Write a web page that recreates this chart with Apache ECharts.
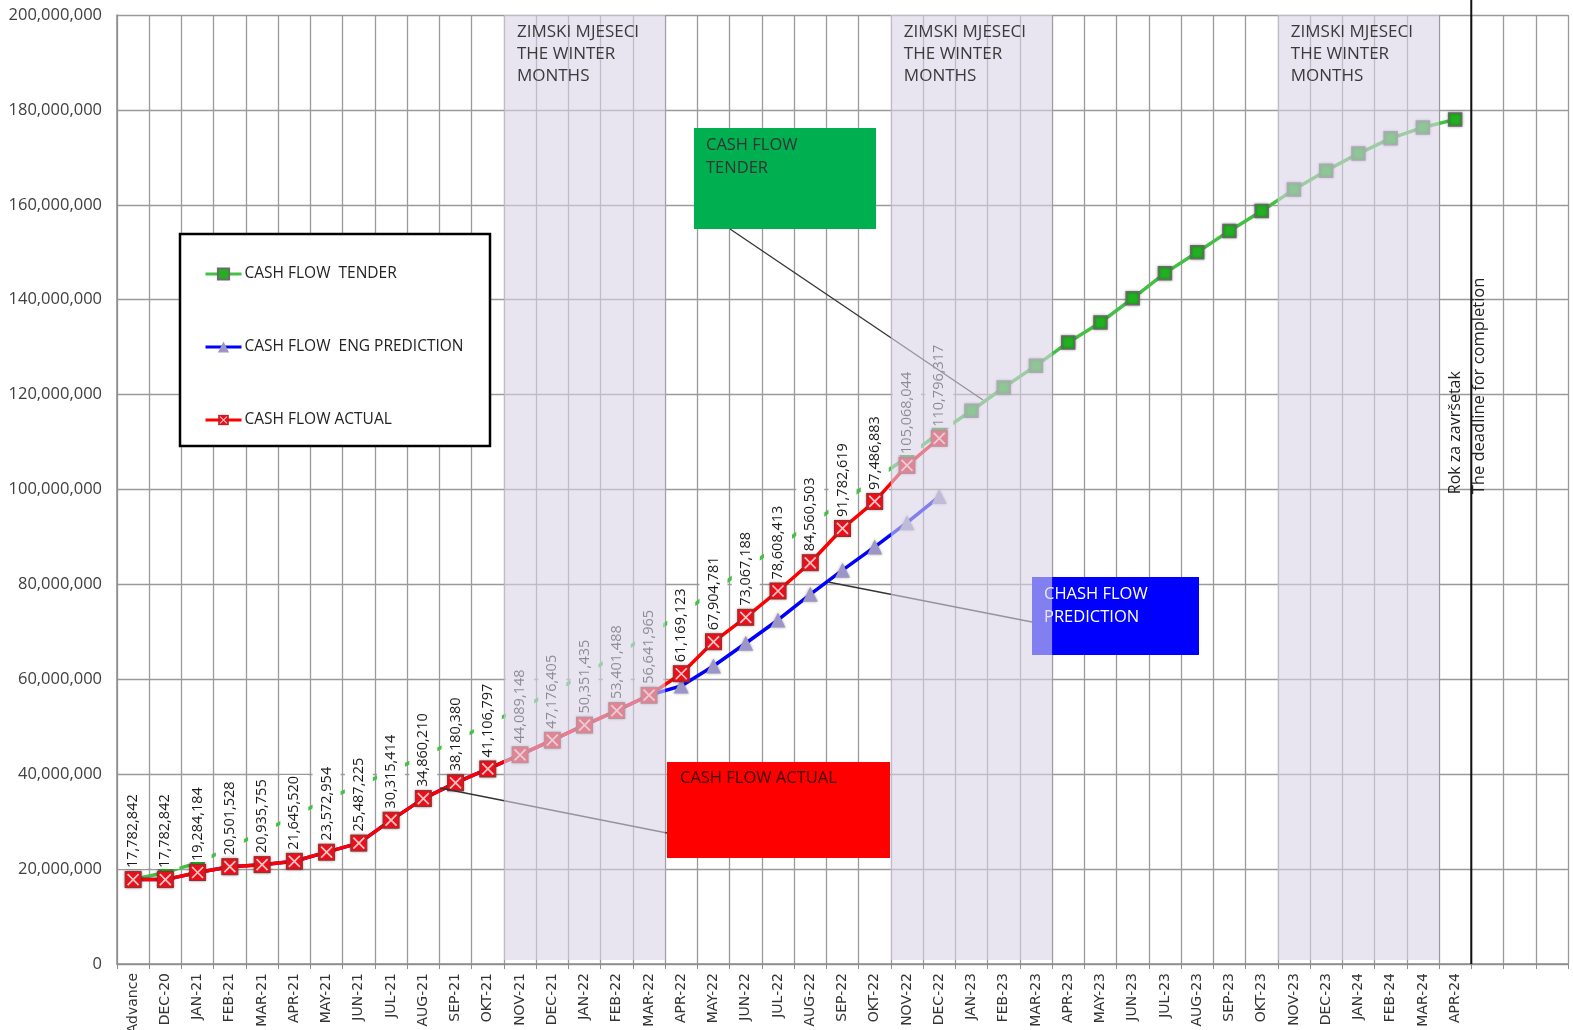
<!DOCTYPE html>
<html>
<head>
<meta charset="utf-8">
<script src="https://cdn.jsdelivr.net/npm/echarts@6/dist/echarts.min.js"></script>
<style>
html,body{margin:0;padding:0;background:#fff;}
#chart{width:1573px;height:1030px;}
</style>
</head>
<body>
<div id="chart"></div>
<script>
const categories = ['Advance','DEC-20','JAN-21','FEB-21','MAR-21','APR-21','MAY-21','JUN-21','JUL-21','AUG-21','SEP-21','OKT-21','NOV-21','DEC-21','JAN-22','FEB-22','MAR-22','APR-22','MAY-22','JUN-22','JUL-22','AUG-22','SEP-22','OKT-22','NOV-22','DEC-22','JAN-23','FEB-23','MAR-23','APR-23','MAY-23','JUN-23','JUL-23','AUG-23','SEP-23','OKT-23','NOV-23','DEC-23','JAN-24','FEB-24','MAR-24','APR-24',' ','  ','   '];

const tenderValues = [17800000,19300000,21300000,24500000,27800000,31200000,34700000,37700000,40600000,43800000,47100000,50600000,53800000,57300000,61000000,65200000,69400000,73800000,78600000,83500000,88000000,92700000,97300000,102100000,106800000,112000000,116600000,121500000,126100000,131000000,135200000,140300000,145600000,150000000,154500000,158700000,163200000,167200000,170800000,174000000,176300000,178000000];

const predictionValues = [17782842,17782842,19284184,20501528,20935755,21645520,23572954,25487225,30315414,34860210,38180380,41106797,44089148,47176405,50351435,53401488,56641965,58600000,62800000,67600000,72500000,77900000,83000000,87900000,93000000,98500000];

const actualValues = [17782842,17782842,19284184,20501528,20935755,21645520,23572954,25487225,30315414,34860210,38180380,41106797,44089148,47176405,50351435,53401488,56641965,61169123,67904781,73067188,78608413,84560503,91782619,97486883,105068044,110796317];

const seriesNames = ['CASH FLOW  TENDER','CASH FLOW  ENG PREDICTION','CASH FLOW ACTUAL'];

const winterStart = ['NOV-21','NOV-22','NOV-23'];
const winterEnd = ['MAR-22','MAR-23','MAR-24'];
const winterText = 'ZIMSKI MJESECI\nTHE WINTER\nMONTHS';
const deadlineAfter = 'APR-24';
const deadlineTexts = ['Rok za završetak','The deadline for completion'];

const yTicks = {min:0, max:200000000, interval:20000000};

const FONT = "'Open Sans', 'Noto Sans', sans-serif";
const AXFONT = "'DejaVu Sans', Verdana, sans-serif";
const fmt = v => Math.round(v).toLocaleString('en-US');

const redMarker = 'image://data:image/svg+xml;utf8,' + encodeURIComponent(
 "<svg xmlns='http://www.w3.org/2000/svg' width='36' height='36'><rect x='2' y='2' width='32' height='32' fill='#e8101a' stroke='#8a3030' stroke-width='2'/><path d='M7 7 L29 29 M29 7 L7 29' stroke='#ffc4c4' stroke-width='3.5'/></svg>");

const winterData = winterStart.map((s,i)=>[categories.indexOf(s), categories.indexOf(winterEnd[i])]);

const chart = echarts.init(document.getElementById('chart'), null, {renderer:'canvas'});

const option = {
  animation:false,
  backgroundColor:'#fff',
  grid:{left:117, right:5, top:15, bottom:66, containLabel:false, outerBoundsMode:'none'},
  legend:{
    data:seriesNames, orient:'vertical', left:199, top:261, itemGap:57,
    itemWidth:36, itemHeight:14, z:7,
    lineStyle:{width:3},
    textStyle:{fontFamily:FONT, fontSize:15.5, color:'#222', padding:[0,0,0,-2]}
  },
  xAxis:{
    type:'category', data:categories, boundaryGap:true,
    axisLine:{lineStyle:{color:'#8c8c8c', width:1.5}},
    axisTick:{show:true, length:5, lineStyle:{color:'#8c8c8c'}},
    axisLabel:{rotate:90, interval:0, margin:9, fontFamily:AXFONT, fontSize:14, color:'#333'},
    splitLine:{show:true, interval:0, lineStyle:{color:'#9a9a9a', width:1.3}}
  },
  yAxis:{
    type:'value', min:yTicks.min, max:yTicks.max, interval:yTicks.interval,
    axisLine:{show:true, lineStyle:{color:'#8c8c8c', width:1.5}},
    axisTick:{show:false},
    axisLabel:{margin:15, fontFamily:FONT, fontSize:16.5, color:'#404040', formatter:v=>fmt(v)},
    splitLine:{show:true, lineStyle:{color:'#9a9a9a', width:1.3}}
  },
  series:[
    {
      name:seriesNames[0], type:'line', data:tenderValues, z:1,
      symbol:'rect', symbolSize:13,
      lineStyle:{color:'#44c044', width:3.5},
      itemStyle:{color:'#22b022', borderColor:'#6a6a6a', borderWidth:1.5, shadowBlur:3, shadowColor:'rgba(0,0,0,0.35)'}
    },
    {
      name:'labels', type:'line', data:actualValues, z:2,
      symbol:'circle', symbolSize:1, showSymbol:true,
      lineStyle:{width:0, opacity:0},
      itemStyle:{color:'rgba(0,0,0,0)', borderWidth:0},
      label:{
        show:true, position:'top', distance:10, rotate:90, align:'left', verticalAlign:'middle',
        fontFamily:FONT, fontSize:14.5, lineHeight:16, color:'#1a1a1a',
        backgroundColor:'#ffffff', padding:[6,1,6,1],
        formatter:p=>fmt(p.value)
      },
      tooltip:{show:false}, silent:true
    },
    {
      name:seriesNames[1], type:'line', data:predictionValues, z:3,
      symbol:'triangle', symbolSize:15,
      lineStyle:{color:'#0000ff', width:3.5},
      itemStyle:{color:'#9c96c6', borderWidth:0, shadowBlur:3, shadowColor:'rgba(0,0,0,0.35)'}
    },
    {
      name:seriesNames[2], type:'line', data:actualValues, z:4,
      symbol:redMarker, symbolSize:18,
      lineStyle:{color:'#ff0000', width:3.5},
      itemStyle:{color:'#ff0000', shadowBlur:3, shadowColor:'rgba(0,0,0,0.35)'}
    },
    {
      name:'winter', type:'custom', z:10, silent:true, clip:false,
      data:winterData,
      encode:{x:[0,1]},
      renderItem:(params, api)=>{
        const cs = params.coordSys;
        const bw = api.size([1,0])[0];
        const x0 = api.coord([api.value(0), 0])[0] - bw/2;
        const x1 = api.coord([api.value(1), 0])[0] + bw/2;
        return {
          type:'group',
          children:[
            {type:'rect', shape:{x:x0, y:cs.y, width:x1-x0, height:cs.height-4},
             style:{fill:'rgba(217,212,230,0.6)'}},
            {type:'text', x:x0+13, y:cs.y+6, z2:5,
             style:{text:winterText, fontFamily:FONT, fontSize:17, lineHeight:22, fill:'#3a3a3a', align:'left', verticalAlign:'top'}}
          ]
        };
      }
    },
    {
      name:'deadline', type:'custom', z:9, silent:true, clip:false,
      data:[[categories.indexOf(deadlineAfter)]],
      encode:{x:0},
      renderItem:(params, api)=>{
        const cs = params.coordSys;
        const bw = api.size([1,0])[0];
        const x = api.coord([api.value(0), 0])[0] + bw/2;
        const yb = api.coord([0, 99000000])[1];
        return {
          type:'group',
          children:[
            {type:'line', shape:{x1:x, y1:0, x2:x, y2:cs.y+cs.height}, style:{stroke:'#111', lineWidth:2}},
            {type:'text', x:x-16, y:yb, rotation:Math.PI/2,
             style:{text:deadlineTexts[0], fontFamily:FONT, fontSize:16, fill:'#222', align:'left', verticalAlign:'middle'}},
            {type:'text', x:x+8, y:yb, rotation:Math.PI/2,
             style:{text:deadlineTexts[1], fontFamily:FONT, fontSize:16.5, fill:'#222', align:'left', verticalAlign:'middle'}}
          ]
        };
      }
    }
  ],
  graphic:[
    {type:'rect', z:6, shape:{x:180, y:234, width:310, height:212}, style:{fill:'#fff', stroke:'#000', lineWidth:2.5}},
    {type:'rect', z:6, shape:{x:694, y:128, width:182, height:101}, style:{fill:'#00b050'}},
    {type:'text', z:6, x:706, y:134, style:{text:'CASH FLOW\nTENDER', fontFamily:FONT, fontSize:16.5, lineHeight:23, fill:'#333'}},
    {type:'line', z:6, shape:{x1:730, y1:229, x2:983, y2:400}, style:{stroke:'#333', lineWidth:1.3}},
    {type:'rect', z:6, shape:{x:1032, y:577, width:167, height:78}, style:{fill:'#0000ff'}},
    {type:'text', z:6, x:1044, y:583, style:{text:'CHASH FLOW\nPREDICTION', fontFamily:FONT, fontSize:16.5, lineHeight:23, fill:'#fff'}},
    {type:'line', z:6, shape:{x1:828, y1:582, x2:1032, y2:622}, style:{stroke:'#333', lineWidth:1.3}},
    {type:'rect', z:6, shape:{x:667, y:762, width:223, height:96}, style:{fill:'#ff0000'}},
    {type:'text', z:6, x:680, y:767, style:{text:'CASH FLOW ACTUAL', fontFamily:FONT, fontSize:16.5, lineHeight:23, fill:'#3a0000'}},
    {type:'line', z:6, shape:{x1:440, y1:788, x2:667, y2:833}, style:{stroke:'#333', lineWidth:1.3}}
  ]
};
chart.setOption(option);
</script>
</body>
</html>
